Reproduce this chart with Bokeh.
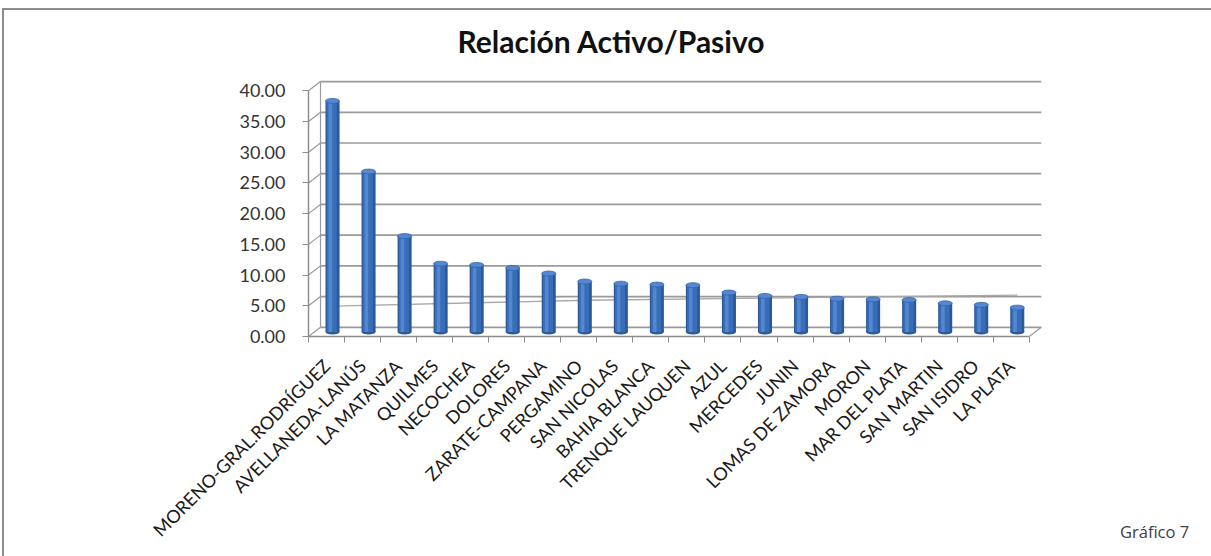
import math
from bokeh.plotting import figure
from bokeh.layouts import column
from bokeh.models import (Range1d, FixedTicker, NumeralTickFormatter,
                          CustomJSTickFormatter, Title, ColumnDataSource, Div)
from bokeh.embed import file_html
from bokeh.resources import INLINE

# ---------------- data ----------------
categorias = ["MORENO-GRAL.RODRÍGUEZ", "AVELLANEDA-LANÚS", "LA MATANZA", "QUILMES",
              "NECOCHEA", "DOLORES", "ZARATE-CAMPANA", "PERGAMINO", "SAN NICOLAS",
              "BAHIA BLANCA", "TRENQUE LAUQUEN", "AZUL", "MERCEDES", "JUNIN",
              "LOMAS DE ZAMORA", "MORON", "MAR DEL PLATA", "SAN MARTIN",
              "SAN ISIDRO", "LA PLATA"]
valores = [37.6, 26.1, 15.6, 11.1, 10.9, 10.4, 9.5, 8.2, 7.85, 7.7,
           7.6, 6.4, 5.85, 5.7, 5.4, 5.3, 5.2, 4.65, 4.4, 3.95]
y_ticks = [0, 5, 10, 15, 20, 25, 30, 35, 40]
linea_idx = [0, 7, 19]
linea_vals = [4.2, 5.15, 6.0]
titulo = "Relación Activo/Pasivo"
nota = "Gráfico 7"

# ---------------- 3D-look geometry (style constants) ----------------
DX = 0.333   # depth offset along x (category units)
DY = 1.5     # depth offset along y (value units)
BAR_W = 0.39

n = len(categorias)
xs = [i + 0.5 + DX / 2 for i in range(n)]
tops = [v + DY / 2 for v in valores]
bottoms = [DY / 2] * n

src = ColumnDataSource(dict(x=xs, top=tops, bottom=bottoms,
                            xh=[x - 0.06 for x in xs], xm=[x - 0.02 for x in xs]))

fig = figure(width=1211, height=556, output_backend="svg", toolbar_location=None,
             x_range=Range1d(0, 20.45), y_range=Range1d(0, 42.0),
             min_border_left=308, min_border_right=166, min_border_top=76,
             min_border_bottom=220)
fig.outline_line_color = None
fig.xgrid.visible = False
fig.ygrid.visible = False
fig.background_fill_color = None
fig.border_fill_color = None
BORDER = "#8c8c8c"
fig.styles = {"background": (f"linear-gradient({BORDER},{BORDER}) 2px 8px / 1400px 2px no-repeat, "
                             f"linear-gradient({BORDER},{BORDER}) 2px 8px / 2px 1000px no-repeat, "
                             "#ffffff")}

fig.title = Title(text=titulo, align="left", offset=149, standoff=40, text_font="Lato",
                  text_font_style="bold", text_font_size="30px", text_color="#111111")

GRID = "#9a9a9a"
ymax = max(y_ticks)
# back wall gridlines + side stubs
fig.segment(x0=[DX] * len(y_ticks), y0=[t + DY for t in y_ticks],
            x1=[n + DX] * len(y_ticks), y1=[t + DY for t in y_ticks],
            line_color=GRID, line_width=1.7)
fig.segment(x0=[0] * len(y_ticks), y0=y_ticks,
            x1=[DX] * len(y_ticks), y1=[t + DY for t in y_ticks],
            line_color=GRID, line_width=1.2)
# back-left wall edge and floor right edge
fig.segment(x0=[DX, n], y0=[DY, 0], x1=[DX, n + DX], y1=[ymax + DY, DY],
            line_color=GRID, line_width=1.2)

# thin reference line
fig.line(x=[i + 0.5 + DX / 2 for i in linea_idx], y=[v + DY / 2 for v in linea_vals],
         line_color="#a8a8a8", line_width=1.3)

# cylinders
fig.ellipse(x="x", y="bottom", width=BAR_W, height=5, height_units="screen",
            source=src, fill_color="#2c5a98", line_color=None)
fig.vbar(x="x", top="top", bottom="bottom", width=BAR_W, source=src,
         fill_color="#2c5a98", line_color=None)
fig.vbar(x="xm", top="top", bottom="bottom", width=BAR_W * 0.72, source=src,
         fill_color="#396db8", line_color=None)
fig.vbar(x="xh", top="top", bottom="bottom", width=BAR_W * 0.25, source=src,
         fill_color="#5a8ed6", line_color=None, fill_alpha=0.8)
fig.ellipse(x="x", y="top", width=BAR_W, height=5, height_units="screen",
            source=src, fill_color="#5588d2", line_color="#3163aa", line_width=0.8)

# ---------------- axes ----------------
AX = "#8c8c8c"
ya = fig.yaxis[0]
ya.ticker = FixedTicker(ticks=y_ticks)
ya.formatter = NumeralTickFormatter(format="0.00")
ya.bounds = (0, ymax)
ya.axis_line_color = AX
ya.axis_line_width = 1.5
ya.major_tick_line_color = AX
ya.major_tick_out = 6
ya.major_tick_in = 0
ya.minor_tick_line_color = None
ya.major_label_standoff = 17
ya.major_label_text_font = "Lato"
ya.major_label_text_font_size = "18px"
ya.major_label_text_color = "#333333"

xa = fig.xaxis[0]
xa.ticker = FixedTicker(ticks=[i + 0.5 for i in range(n)], minor_ticks=list(range(n + 1)))
xa.formatter = CustomJSTickFormatter(args=dict(labels=categorias),
                                     code="return labels[Math.floor(tick)] || '';")
xa.bounds = (0, n)
xa.axis_line_color = AX
xa.axis_line_width = 1.5
xa.major_tick_line_color = None
xa.minor_tick_line_color = AX
xa.minor_tick_out = 6
xa.minor_tick_in = 0
xa.major_label_orientation = math.pi / 4
xa.major_label_standoff = 20
xa.major_label_text_font = "Lato"
xa.major_label_text_font_size = "18px"
xa.major_label_text_color = "#1a1a1a"

nota_div = Div(text=('<span style="display:block; font-family:\'Open Sans\'; font-size:16.5px; '
                     'line-height:16px; color:#404040; white-space:nowrap">'
                     + nota + '</span>'),
               styles={"position": "absolute", "left": "1115px", "top": "519px"})

p = column(fig, nota_div, spacing=0)

open("out.html", "w").write(file_html(p, INLINE))
